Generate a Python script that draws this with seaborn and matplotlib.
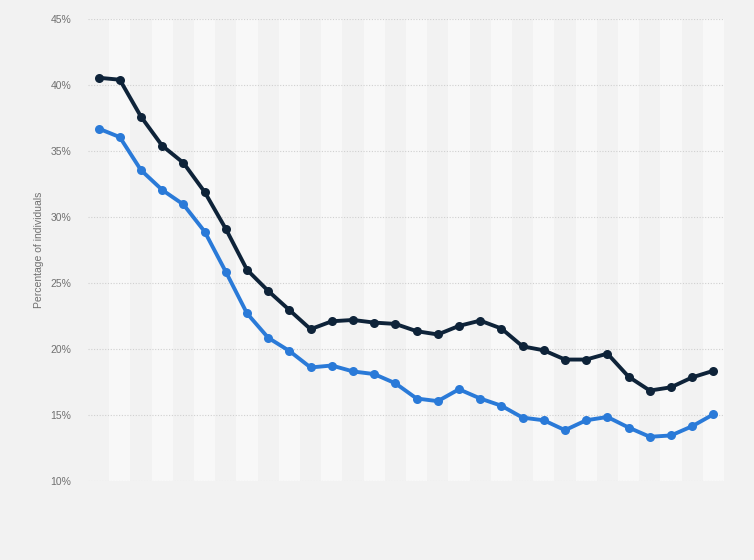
import pandas as pd
import seaborn as sns
import matplotlib.pyplot as plt

# x categories (no labels shown on the chart)
periods = list(range(1, 31))

# dark navy series
series_dark = [40.55, 40.4, 37.6, 35.4, 34.1, 31.9, 29.1, 26.0, 24.4, 22.95,
               21.5, 22.1, 22.2, 22.0, 21.9, 21.35, 21.1, 21.75, 22.15, 21.55,
               20.2, 19.9, 19.2, 19.2, 19.65, 17.9, 16.85, 17.1, 17.85, 18.35]

# blue series
series_blue = [36.7, 36.05, 33.55, 32.05, 30.95, 28.9, 25.85, 22.7, 20.85, 19.85,
               18.6, 18.75, 18.3, 18.1, 17.4, 16.25, 16.05, 16.95, 16.25, 15.7,
               14.8, 14.6, 13.85, 14.6, 14.85, 14.05, 13.35, 13.45, 14.15, 15.05]

y_ticks = [10, 15, 20, 25, 30, 35, 40, 45]
y_ticklabels = [f"{t}%" for t in y_ticks]

df = pd.DataFrame({
    "period": periods * 2,
    "value": series_dark + series_blue,
    "series": ["dark"] * len(periods) + ["blue"] * len(periods),
})
df["pos"] = df["period"].map({p: i for i, p in enumerate(periods)})

sns.set_style("white")
plt.rcParams["font.family"] = ["Liberation Sans", "DejaVu Sans"]

bg = "#f2f2f2"
fig = plt.figure(figsize=(7.54, 5.6), dpi=100, facecolor=bg)
ax = fig.add_axes([88 / 754, 1 - 481 / 560, 636 / 754, 462 / 560])
ax.set_facecolor(bg)

# alternating column bands
for i in range(len(periods)):
    if i % 2 == 1:
        ax.axvspan(i - 0.5, i + 0.5, color="#f8f8f8", zorder=0, lw=0)

sns.lineplot(data=df, x="pos", y="value", hue="series",
             palette={"dark": "#0e2339", "blue": "#2a7ad8"},
             marker="o", markersize=6.5, markeredgewidth=0,
             linewidth=2.8, legend=False, ax=ax, zorder=3)

ax.set_xlim(-0.5, len(periods) - 0.5)
ax.set_ylim(10, 45)
ax.set_yticks(y_ticks)
ax.set_yticklabels(y_ticklabels)
ax.set_xticks([])
ax.yaxis.grid(True, color="#d0d0d0", linestyle=(0, (1, 1.5)), linewidth=0.8)
ax.set_axisbelow(True)
for s in ax.spines.values():
    s.set_visible(False)
ax.tick_params(axis="y", length=0, pad=12, labelsize=7.5, labelcolor="#707070")
ax.set_xlabel("")
ax.set_ylabel("Percentage of individuals", fontsize=7.5, color="#707070", labelpad=5)

fig.savefig("out.png", dpi=100, facecolor=bg)
